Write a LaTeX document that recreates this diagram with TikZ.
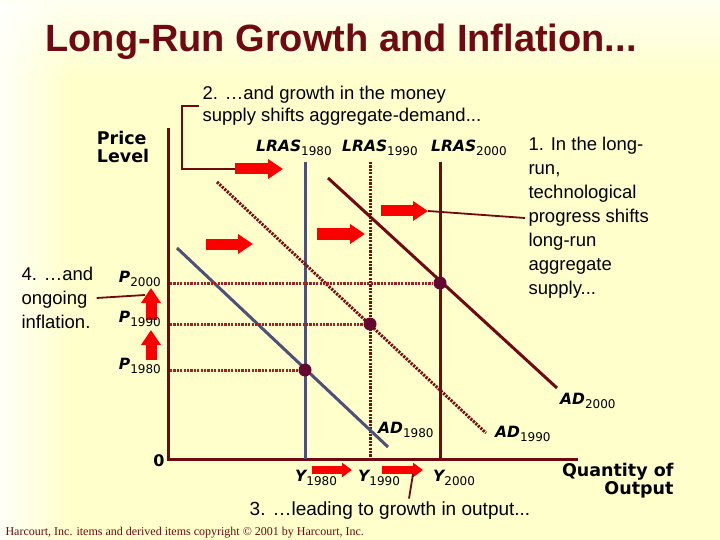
\documentclass[tikz,border=0pt]{standalone}
\usepackage{fontspec}
\setmainfont{Liberation Sans}
\newfontfamily\verd{DejaVu Sans}[BoldFont={DejaVu Sans Bold},ItalicFont={DejaVu Sans Oblique},BoldItalicFont={DejaVu Sans Bold Oblique}]
\newfontfamily\tms{Liberation Serif}
\usetikzlibrary{arrows.meta,fadings}
\definecolor{bgyel}{RGB}{255,255,204}
\definecolor{maroon}{RGB}{112,10,18}
\definecolor{slate}{RGB}{76,80,122}
\definecolor{dotred}{RGB}{165,30,35}
\definecolor{eqdot}{RGB}{100,8,48}
\definecolor{shiftred}{RGB}{250,0,0}
\newcommand{\curvelab}[2]{{\verd\bfseries\itshape\fontsize{15.5}{15.5}\selectfont #1}\raisebox{-4pt}{\verd\fontsize{12}{12}\selectfont #2}}
\tikzset{
  axisln/.style={maroon,line width=3pt},
  thickln/.style={line width=3pt},
  guide/.style={dotred,line width=3pt,dash pattern=on 2.2pt off 1.2pt},
  eq/.style={circle,fill=eqdot,inner sep=0pt,minimum size=13pt},
  push/.style={shiftred,line width=11pt,-{Triangle[length=15pt,width=19pt]}},
  smallpush/.style={shiftred,line width=8pt,-{Triangle[length=10pt,width=14pt]}},
  lead/.style={maroon,line width=1.8pt},
  note/.style={font=\fontsize{18.5}{24}\selectfont,align=left},
  axlab/.style={font=\verd\bfseries\fontsize{17.5}{18}\selectfont},
  curvelbl/.style={inner sep=0pt},
}

\begin{document}
\begin{tikzpicture}[x=1pt,y=-1pt]
  % background
  \useasboundingbox (0,0) rectangle (720,540);
  \fill[bgyel] (0,0) rectangle (720,540);
  \fill[white,opacity=0.85,path fading=east] (0,0) rectangle (70,540);
  \fill[white,opacity=0.7,path fading=south] (0,0) rectangle (720,80);
  \node[anchor=west,text=maroon,font=\bfseries\fontsize{38}{40}\selectfont] (title) at (42,42) {Long-Run Growth and Inflation...};

  % axes and curves
  \draw[axisln] (168,128) -- (168,459) -- (578,459);
  \draw[thickln,slate] (305,162) -- (305,459);
  \draw[guide,maroon!85!dotred] (370,162) -- (370,459);
  \draw[thickln,maroon] (440,162) -- (440,459);
  \draw[thickln,slate] (177,248) -- (388,447);
  \draw[guide,maroon!85!dotred] (217,182) -- (486,433);
  \draw[thickln,maroon] (328,178) -- (557,388);

  % equilibria
  \node[eq] (e80) at (305,370) {};
  \node[eq] (e90) at (370,324) {};
  \node[eq] (e00) at (440,283) {};
  \draw[guide] (170,370) -- (e80);
  \draw[guide] (170,324) -- (e90);
  \draw[guide] (170,283) -- (e00);

  % shift arrows
  \coordinate (a1tail) at (235,169); \coordinate (a1tip) at (283,169);
  \coordinate (a2tail) at (206,244); \coordinate (a2tip) at (253,244);
  \coordinate (a3tail) at (317,234); \coordinate (a3tip) at (365,234);
  \coordinate (a4tail) at (381,211); \coordinate (a4tip) at (428,211);
  \coordinate (v1tail) at (151,360); \coordinate (v1tip) at (151,330);
  \coordinate (v2tail) at (151,320); \coordinate (v2tip) at (151,288);
  \coordinate (b1tail) at (312,470); \coordinate (b1tip) at (352,470);
  \coordinate (b2tail) at (382,470); \coordinate (b2tip) at (423,470);
  \draw[push] (a1tail) -- (a1tip);
  \draw[push] (a2tail) -- (a2tip);
  \draw[push] (a3tail) -- (a3tip);
  \draw[push] (a4tail) -- (a4tip);
  \draw[push] (v1tail) -- (v1tip);
  \draw[push] (v2tail) -- (v2tip);
  \draw[smallpush] (b1tail) -- (b1tip);
  \draw[smallpush] (b2tail) -- (b2tip);

  % curve labels
  \node[curvelbl,anchor=west] (lr80) at (256,148) {\curvelab{LRAS}{1980}};
  \node[curvelbl,anchor=west] (lr90) at (342,148) {\curvelab{LRAS}{1990}};
  \node[curvelbl,anchor=west] (lr00) at (431,148) {\curvelab{LRAS}{2000}};
  \node[curvelbl,anchor=west] (ad80) at (378,430) {\curvelab{AD}{1980}};
  \node[curvelbl,anchor=west] (ad90) at (495,434) {\curvelab{AD}{1990}};
  \node[curvelbl,anchor=west] (ad00) at (560,401) {\curvelab{AD}{2000}};
  \node[curvelbl,anchor=east] (p00) at (161,279) {\curvelab{P}{2000}};
  \node[curvelbl,anchor=east] (p90) at (161,319) {\curvelab{P}{1990}};
  \node[curvelbl,anchor=east] (p80) at (161,366) {\curvelab{P}{1980}};
  \node[curvelbl,anchor=west] (y80) at (295,478) {\curvelab{Y}{1980}};
  \node[curvelbl,anchor=west] (y90) at (358,478) {\curvelab{Y}{1990}};
  \node[curvelbl,anchor=west] (y00) at (433,478) {\curvelab{Y}{2000}};

  % axis labels
  \node[axlab,align=left] (price) at (123,147) {Price\\Level};
  \node[axlab,align=right,anchor=east] (qty) at (677,481) {Quantity of\\Output};
  \node[font=\verd\bfseries\fontsize{16}{16}\selectfont] (orig) at (159,461) {0};

  % notes
  \node[note,anchor=west,font=\fontsize{18.5}{22}\selectfont] (msg2) at (199,106) {2. …and growth in the money\\supply shifts aggregate-demand...};
  \node[note,anchor=west] (msg1) at (525,218) {1. In the long-\\run,\\technological\\progress shifts\\long-run\\aggregate\\supply...};
  \node[note,anchor=west] (msg4) at (18,298) {4. …and\\ongoing\\inflation.};
  \node[note,font=\fontsize{19}{22}\selectfont] (msg3) at (390,511) {3. …leading to growth in output...};
  \coordinate (v2side) at (145,295);
  \coordinate (b2low) at (413,474);
  \draw[lead] (msg2.west) -- ++(-17,0) |- (a1tail);
  \draw[lead] (a4tip) -- (msg1.west);
  \draw[lead] (msg4.east) -- (v2side);
  \draw[lead] ([xshift=19pt]msg3.north) -- (b2low);

  \node[anchor=west,text=maroon,font=\tms\fontsize{12}{12}\selectfont] (copy) at (2,533) {Harcourt, Inc. items and derived items copyright © 2001 by Harcourt, Inc.};
\end{tikzpicture}
\end{document}
